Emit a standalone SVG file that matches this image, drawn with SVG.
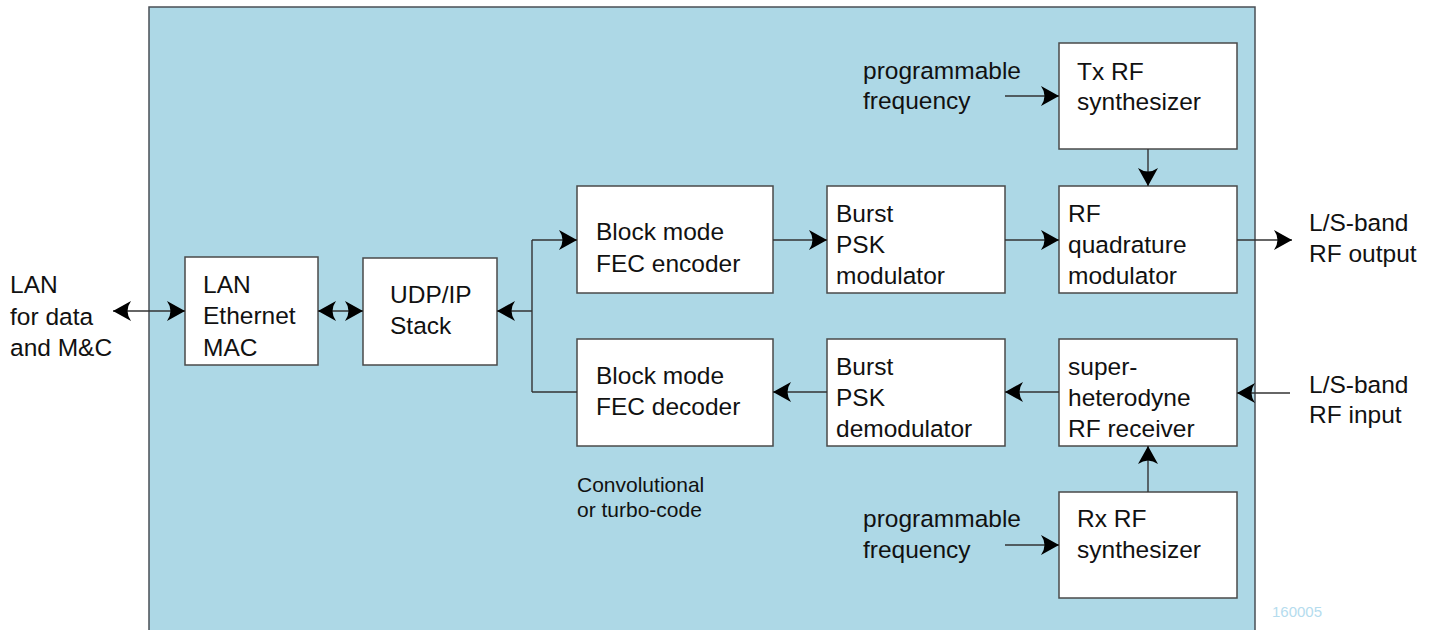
<svg xmlns="http://www.w3.org/2000/svg" width="1436" height="630" viewBox="0 0 1436 630">
  <style>
    .box { fill: #ffffff; stroke: #4a4a4a; stroke-width: 1.5; }
    .lbl { font-family: "Liberation Sans", Arial, sans-serif; font-size: 24.5px; fill: #111111; }
    .note { font-family: "Liberation Sans", Arial, sans-serif; font-size: 21px; fill: #111111; }
    .tag { font-family: "Liberation Sans", Arial, sans-serif; font-size: 15px; fill: #b5dcee; }
    .wire { fill: none; stroke: #333333; stroke-width: 1.4; }
  </style>
  <defs>
    <marker id="head" viewBox="-20 -11 22 22" refX="0" refY="0" markerWidth="22" markerHeight="22" markerUnits="userSpaceOnUse" orient="auto-start-reverse">
      <path d="M0,0 L-18,-10 Q-11,0 -18,10 Z" fill="#000000"/>
    </marker>
  </defs>

  <rect width="1436" height="630" fill="#ffffff"/>

  <!-- equipment enclosure -->
  <rect id="panel" x="149" y="7" width="1106" height="640" fill="#add8e6" stroke="#4a4f55" stroke-width="1.5"/>

  <!-- external labels -->
  <g id="lan-ext">
    <text class="lbl" x="10" y="293">LAN</text>
    <text class="lbl" x="10" y="325">for data</text>
    <text class="lbl" x="10" y="356">and M&amp;C</text>
  </g>
  <g id="rf-out-ext">
    <text class="lbl" x="1309" y="231">L/S-band</text>
    <text class="lbl" x="1309" y="262">RF output</text>
  </g>
  <g id="rf-in-ext">
    <text class="lbl" x="1309" y="393">L/S-band</text>
    <text class="lbl" x="1309" y="423">RF input</text>
  </g>
  <g id="freq-tx">
    <text class="lbl" x="863" y="79">programmable</text>
    <text class="lbl" x="863" y="109">frequency</text>
  </g>
  <g id="freq-rx">
    <text class="lbl" x="863" y="527">programmable</text>
    <text class="lbl" x="863" y="558">frequency</text>
  </g>
  <g id="fec-note">
    <text class="note" x="577" y="492">Convolutional</text>
    <text class="note" x="577" y="517">or turbo-code</text>
  </g>

  <!-- blocks -->
  <g id="mac">
    <rect class="box" x="185" y="257" width="133" height="108"/>
    <text class="lbl" x="203" y="293">LAN</text>
    <text class="lbl" x="203" y="324">Ethernet</text>
    <text class="lbl" x="203" y="356">MAC</text>
  </g>
  <g id="udp">
    <rect class="box" x="363" y="258" width="134" height="107"/>
    <text class="lbl" x="390" y="303">UDP/IP</text>
    <text class="lbl" x="390" y="334">Stack</text>
  </g>
  <g id="fec-enc">
    <rect class="box" x="577" y="186" width="196" height="107"/>
    <text class="lbl" x="596" y="240">Block mode</text>
    <text class="lbl" x="596" y="272">FEC encoder</text>
  </g>
  <g id="fec-dec">
    <rect class="box" x="577" y="339" width="196" height="107"/>
    <text class="lbl" x="596" y="384">Block mode</text>
    <text class="lbl" x="596" y="415">FEC decoder</text>
  </g>
  <g id="psk-mod">
    <rect class="box" x="827" y="186" width="178" height="107"/>
    <text class="lbl" x="836" y="222">Burst</text>
    <text class="lbl" x="836" y="253">PSK</text>
    <text class="lbl" x="836" y="284">modulator</text>
  </g>
  <g id="psk-demod">
    <rect class="box" x="827" y="339" width="178" height="107"/>
    <text class="lbl" x="836" y="375">Burst</text>
    <text class="lbl" x="836" y="406">PSK</text>
    <text class="lbl" x="836" y="437">demodulator</text>
  </g>
  <g id="quad-mod">
    <rect class="box" x="1059" y="186" width="178" height="107"/>
    <text class="lbl" x="1068" y="222">RF</text>
    <text class="lbl" x="1068" y="253">quadrature</text>
    <text class="lbl" x="1068" y="284">modulator</text>
  </g>
  <g id="receiver">
    <rect class="box" x="1059" y="339" width="178" height="107"/>
    <text class="lbl" x="1068" y="375">super-</text>
    <text class="lbl" x="1068" y="406">heterodyne</text>
    <text class="lbl" x="1068" y="437">RF receiver</text>
  </g>
  <g id="tx-synth">
    <rect class="box" x="1059" y="43" width="178" height="106"/>
    <text class="lbl" x="1077" y="80">Tx RF</text>
    <text class="lbl" x="1077" y="110">synthesizer</text>
  </g>
  <g id="rx-synth">
    <rect class="box" x="1059" y="492" width="178" height="106"/>
    <text class="lbl" x="1077" y="527">Rx RF</text>
    <text class="lbl" x="1077" y="558">synthesizer</text>
  </g>

  <!-- signal paths -->
  <g id="connectors">
    <line class="wire" x1="113" y1="311" x2="185" y2="311" marker-start="url(#head)" marker-end="url(#head)"/>
    <line class="wire" x1="318" y1="311" x2="363" y2="311" marker-start="url(#head)" marker-end="url(#head)"/>
    <line class="wire" x1="532" y1="240" x2="532" y2="392"/>
    <line class="wire" x1="532" y1="311" x2="497" y2="311" marker-end="url(#head)"/>
    <line class="wire" x1="532" y1="240" x2="577" y2="240" marker-end="url(#head)"/>
    <line class="wire" x1="532" y1="392" x2="577" y2="392"/>
    <line class="wire" x1="773" y1="240" x2="827" y2="240" marker-end="url(#head)"/>
    <line class="wire" x1="1005" y1="240" x2="1059" y2="240" marker-end="url(#head)"/>
    <line class="wire" x1="1237" y1="240" x2="1292" y2="240" marker-end="url(#head)"/>
    <line class="wire" x1="1148" y1="149" x2="1148" y2="186" marker-end="url(#head)"/>
    <line class="wire" x1="1005" y1="96" x2="1059" y2="96" marker-end="url(#head)"/>
    <line class="wire" x1="1290" y1="393" x2="1237" y2="393" marker-end="url(#head)"/>
    <line class="wire" x1="1059" y1="392" x2="1005" y2="392" marker-end="url(#head)"/>
    <line class="wire" x1="827" y1="392" x2="773" y2="392" marker-end="url(#head)"/>
    <line class="wire" x1="1148" y1="492" x2="1148" y2="446" marker-end="url(#head)"/>
    <line class="wire" x1="1005" y1="545" x2="1059" y2="545" marker-end="url(#head)"/>
  </g>

  <text class="tag" x="1272" y="617">160005</text>
</svg>
